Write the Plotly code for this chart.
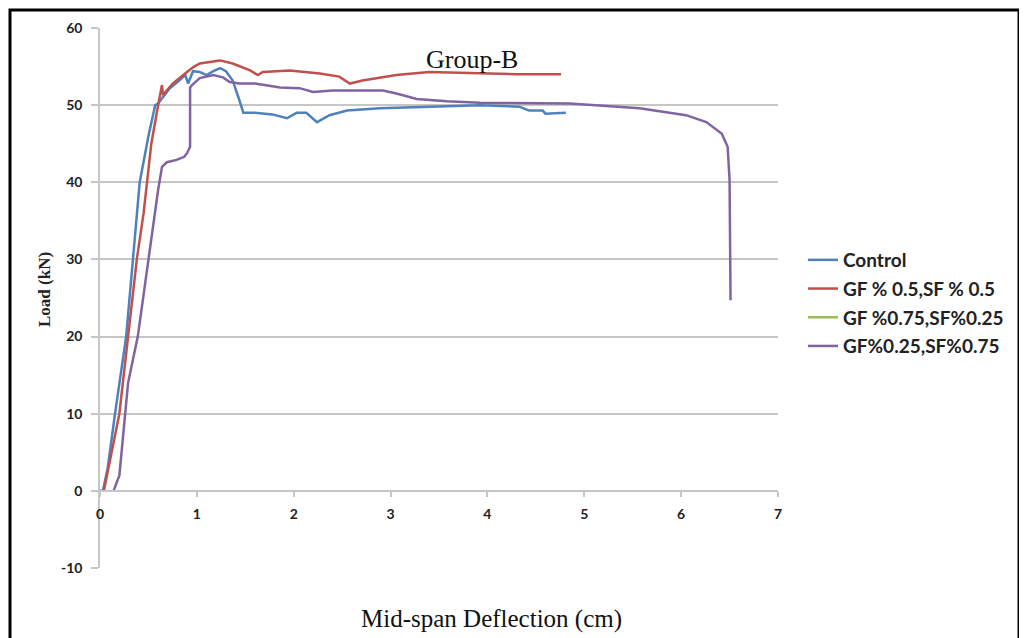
import plotly.graph_objects as go

# Group-B: load vs mid-span deflection
control_x = [0.0, 0.03, 0.08, 0.155, 0.27, 0.34, 0.41, 0.5, 0.57, 0.6, 0.66, 0.72, 0.8, 0.88, 0.91,
             0.96, 1.03, 1.1, 1.17, 1.24, 1.3, 1.37, 1.44, 1.48, 1.6, 1.78, 1.93, 2.03, 2.13, 2.24,
             2.37, 2.55, 2.89, 3.4, 3.92, 4.33, 4.43, 4.57, 4.6, 4.81]
control_y = [0, 0, 3, 10, 20, 30, 40, 46, 50, 50.2, 51.2, 52.2, 53, 53.9, 52.8,
             54.4, 54.3, 53.9, 54.4, 54.8, 54.4, 53.2, 50.6, 49.0, 49.0, 48.8, 48.3, 49.0, 49.0, 47.8,
             48.7, 49.3, 49.6, 49.8, 50.0, 49.8, 49.3, 49.3, 48.9, 49.0]

gf05_x = [0.04, 0.2, 0.29, 0.38, 0.45, 0.53, 0.6, 0.64, 0.65, 0.75, 0.86, 0.96, 1.03, 1.1, 1.24,
          1.37, 1.55, 1.63, 1.68, 1.96, 2.27, 2.47, 2.58, 2.71, 3.06, 3.4, 3.92, 4.3, 4.76]
gf05_y = [0, 10, 20, 30, 36, 45, 50, 52.6, 51.3, 52.8, 53.9, 54.9, 55.4, 55.5, 55.8,
          55.4, 54.5, 53.9, 54.3, 54.5, 54.1, 53.7, 52.8, 53.2, 53.9, 54.3, 54.1, 54.0, 54.0]

# no data plotted for this mix, only the legend entry
gf075_x = [None]
gf075_y = [None]

gf025_x = [0.14, 0.2, 0.26, 0.29, 0.39, 0.5, 0.55, 0.6, 0.64, 0.69, 0.79, 0.87, 0.9, 0.93, 0.93,
           0.95, 1.03, 1.17, 1.27, 1.34, 1.44, 1.6, 1.86, 2.06, 2.2, 2.4, 2.55, 2.92, 3.06, 3.27,
           3.58, 3.92, 4.85, 5.57, 5.88, 6.05, 6.26, 6.42, 6.48, 6.5, 6.51]
gf025_y = [0, 2, 10, 14, 20, 30, 35, 39, 42, 42.6, 42.9, 43.3, 43.8, 44.6, 52.3,
           52.6, 53.5, 53.9, 53.6, 53.0, 52.8, 52.8, 52.3, 52.2, 51.7, 51.9, 51.9, 51.9, 51.5, 50.8,
           50.5, 50.3, 50.2, 49.6, 49.0, 48.7, 47.8, 46.3, 44.6, 40.3, 24.7]

series = [
    ("Control", control_x, control_y, "#4F81BD"),
    ("GF % 0.5,SF % 0.5", gf05_x, gf05_y, "#C0504D"),
    ("GF %0.75,SF%0.25", gf075_x, gf075_y, "#9BBB59"),
    ("GF%0.25,SF%0.75", gf025_x, gf025_y, "#8064A2"),
]

x_ticks = [0, 1, 2, 3, 4, 5, 6, 7]
y_ticks = [-10, 0, 10, 20, 30, 40, 50, 60]
y_labels = ["-10", "0", "10", "20", "30", "40", "50", "60"]

# the page body adds 8px around the figure, so work in figure coords
OFF = 8
W, H = 1027 - OFF, 638 - OFF
L, T = 100 - OFF, 28 - OFF
R = W - (778 - OFF)
B = H - (568 - OFF)
pw, ph = W - L - R, H - T - B


def px(x):
    # screen x -> paper x
    return (x - OFF - L) / pw


def py(y):
    # screen y -> paper y
    return (H - B - (y - OFF)) / ph


fig = go.Figure()
for i, (name, xs, ys, col) in enumerate(series):
    fig.add_trace(go.Scatter(x=xs, y=ys, mode="lines", name=name, legendgroup=str(i),
                             line=dict(color=col, width=2.5), hoverinfo="skip"))

tick_font = dict(family="Lato", size=14, color="#222222", weight="bold")
grid = "#c6c6c6"

fig.update_layout(
    width=W, height=H,
    margin=dict(l=L, r=R, t=T, b=B),
    paper_bgcolor="white", plot_bgcolor="white",
    showlegend=True,
    legend=dict(x=px(803), y=py(241), xanchor="left", yanchor="top",
                font=dict(family="Lato", size=19, color="#222222", weight="bold"),
                traceorder="grouped", tracegroupgap=1, itemwidth=30,
                bgcolor="rgba(0,0,0,0)"),
    xaxis=dict(range=[0, 7], tickvals=x_ticks, showgrid=False, zeroline=False,
               showline=True, linecolor=grid, linewidth=2,
               ticks="outside", ticklen=5, tickcolor=grid, tickwidth=1.5,
               tickfont=tick_font, ticklabelstandoff=5,
               anchor="free", position=10 / 70),
    yaxis=dict(range=[-10, 60], tickvals=y_ticks, ticktext=y_labels,
               showgrid=True, gridcolor=grid, gridwidth=2,
               zeroline=False, showline=True, linecolor=grid, linewidth=1.5,
               ticks="outside", ticklen=7, tickcolor=grid, tickwidth=2,
               tickfont=tick_font, ticklabelstandoff=6),
)

# title, axis titles
fig.add_annotation(text="Group-B", x=px(472), y=py(60), xref="paper", yref="paper",
                   xanchor="center", yanchor="middle", showarrow=False,
                   font=dict(family="Liberation Serif", size=26, color="#111111"))
fig.add_annotation(text="Mid-span Deflection (cm)", x=px(491), y=py(619), xref="paper", yref="paper",
                   xanchor="center", yanchor="middle", showarrow=False,
                   font=dict(family="Liberation Serif", size=25, color="#111111"))
fig.add_annotation(text="<b>Load (kN)</b>", x=px(44), y=py(290), xref="paper", yref="paper",
                   xanchor="center", yanchor="middle", textangle=-90, showarrow=False,
                   font=dict(family="Liberation Serif", size=17, color="#222222"))

# outer frame of the picture
fig.add_shape(type="rect", xref="paper", yref="paper",
              x0=px(10), x1=px(1019), y0=py(700), y1=py(10),
              line=dict(color="black", width=3))

fig.write_html("out.html", config={"displayModeBar": False})
